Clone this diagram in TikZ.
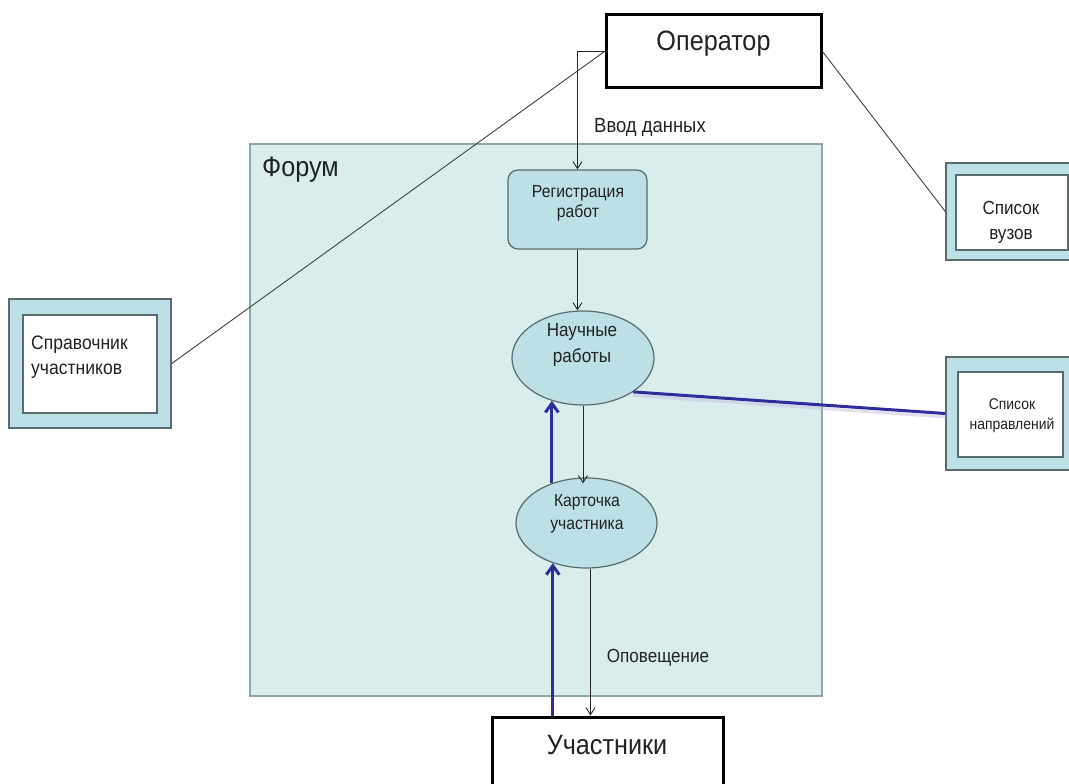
\documentclass[tikz,border=0pt]{standalone}
\usepackage{fontspec}
\setmainfont[FakeStretch=0.9]{Liberation Sans}
\usetikzlibrary{shapes.geometric,arrows.meta,calc}

\definecolor{forumfill}{HTML}{DAEDED}
\definecolor{forumline}{HTML}{8DA6A6}
\definecolor{tealfill}{HTML}{BCE0E5}
\definecolor{shapeline}{HTML}{5A6B6B}
\definecolor{flowblue}{HTML}{2D2D9C}
\definecolor{flowshadow}{HTML}{C4C0E2}
\definecolor{ink}{HTML}{222222}

\tikzset{
  actor/.style={draw=black, line width=3pt, fill=white, inner sep=0pt},
  forumbox/.style={draw=forumline, line width=2.5pt, fill=forumfill, inner sep=0pt},
  process/.style={draw=shapeline, line width=1.2pt, fill=tealfill, rounded corners=10pt,
    inner sep=0pt},
  store/.style={ellipse, draw=shapeline, line width=1.2pt, fill=tealfill, inner sep=0pt},
  refouter/.style={draw=shapeline, line width=1.5pt, fill=tealfill, inner sep=0pt},
  refinner/.style={draw=shapeline, line width=1.5pt, fill=white, inner sep=0pt},
  lbl/.style={inner sep=0pt, text=ink, align=center},
  link/.style={draw=black!75, line width=0.9pt},
  flow/.style={draw=black!85, line width=0.9pt, -{Straight Barb[length=7pt,width=9pt]}},
  blueflow/.style={draw=flowblue, line width=3pt, -{Straight Barb[length=9pt,width=13pt]}},
  blueline/.style={draw=flowblue, line width=3pt},
}

\begin{document}
\begin{tikzpicture}[x=1pt,y=-1pt]
\useasboundingbox (0,0) rectangle (1069,784);
\clip (0,0) rectangle (1069,784);
\fill[white] (0,0) rectangle (1069,784);

% forum area
\node[forumbox, minimum width=572pt, minimum height=552pt] (forum) at (536,420) {};
\node[lbl, anchor=west, font=\fontsize{28}{30}\selectfont] (forumtxt) at (262,170) {Форум};

% external actors
\node[actor, minimum width=215pt, minimum height=73pt] (op) at (713.5,51.5) {};
\node[lbl, font=\fontsize{28}{32}\selectfont] (optxt) at (713.5,44) {Оператор};
\node[actor, minimum width=231pt, minimum height=90pt] (uch) at (607.5,762) {};
\node[lbl, font=\fontsize{28}{30}\selectfont] (uchtxt) at (607,745) {Участники};

% reference lists
\node[refouter, minimum width=162pt, minimum height=129pt] (spr) at (90,363.5) {};
\node[refinner, minimum width=134pt, minimum height=98pt] (sprin) at (90,364) {};
\node[lbl, anchor=west, align=left, font=\fontsize{19.5}{25}\selectfont] (sprtxt) at (31,357)
  {Справочник\\участников};

\node[refouter, minimum width=132pt, minimum height=97pt] (vuz) at (1012,211.5) {};
\node[refinner, minimum width=112pt, minimum height=75pt] (vuzin) at (1012,212.5) {};
\node[lbl, font=\fontsize{19}{25}\selectfont] (vuztxt) at (1011,222) {Список\\вузов};

\node[refouter, minimum width=132pt, minimum height=113pt] (napr) at (1012,413.5) {};
\node[refinner, minimum width=105pt, minimum height=85pt] (naprin) at (1010.5,414.5) {};
\node[lbl, font=\fontsize{15.5}{20}\selectfont] (naprtxt) at (1012,416) {Список\\направлений};

% processes and stores inside the forum
\node[process, minimum width=139pt, minimum height=79pt] (reg) at (577.5,209.5) {};
\node[lbl, font=\fontsize{17.5}{20}\selectfont] (regtxt) at (578,203) {Регистрация\\работ};
\node[store, minimum width=142pt, minimum height=94pt] (nauch) at (583,358) {};
\node[lbl, font=\fontsize{19}{26}\selectfont] (nauchtxt) at (582,345) {Научные\\работы};
\node[store, minimum width=141pt, minimum height=90pt] (kart) at (586.5,523) {};
\node[lbl, font=\fontsize{17.5}{23}\selectfont] (karttxt) at (587,513.5) {Карточка\\участника};

% flow labels
\node[lbl, font=\fontsize{20.5}{22}\selectfont] (vvod) at (650,127) {Ввод данных};
\node[lbl, font=\fontsize{19}{22}\selectfont] (opov) at (658,658) {Оповещение};

% connectors
\draw[link] (op.west) -- (spr.east);
\draw[link] (op.east) -- (vuz.west);
\draw[flow] (op.west) -| (reg.north);
\draw[flow] (reg.south) -- (reg.south |- nauch.north);
\draw[flow] (nauch.south) -- ($(nauch.south |- kart.north)+(0,6)$);
\draw[flow] (kart.-85) -- (kart.-85 |- uch.north);

\draw[draw=flowshadow, line width=3pt, opacity=0.5] ($(nauch.-34)+(0,3.5)$) -- ($(napr.west)+(0,3.5)$);
\draw[blueline] (nauch.-34) -- (napr.west);
\draw[blueflow] (kart.131) -- (kart.131 |- nauch.234);
\draw[blueflow] (kart.230 |- uch.north) -- (kart.230);
\end{tikzpicture}
\end{document}
